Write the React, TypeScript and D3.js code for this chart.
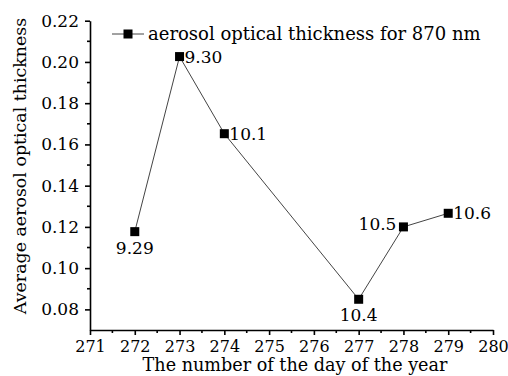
import { useEffect, useRef } from 'react';
import * as d3 from 'd3';

// Day of year and the mean AOT at 870 nm
const days = [272, 273, 274, 277, 278, 279];
const aot = [0.1177, 0.2026, 0.1652, 0.0849, 0.12, 0.1266];
const pointLabels = ['9.29', '9.30', '10.1', '10.4', '10.5', '10.6'];
// where each date label sits relative to its point
const labelSides = ['below', 'right', 'right', 'below', 'left', 'right'];

const xTicks = [271, 272, 273, 274, 275, 276, 277, 278, 279, 280];
const yTicks = [0.08, 0.1, 0.12, 0.14, 0.16, 0.18, 0.2, 0.22];

const legendText = 'aerosol optical thickness for 870 nm';
const xTitle = 'The number of the day of the year';
const yTitle = 'Average aerosol optical thickness';

export default function App() {
  const svgRef = useRef<SVGSVGElement>(null);

  useEffect(() => {
    if (!svgRef.current) return;

    const width = 508;
    const height = 376;
    const font = '"DejaVu Serif", serif';

    const svg = d3.select(svgRef.current);
    svg.selectAll('*').remove();
    svg.attr('width', width).attr('height', height);

    svg.append('rect').attr('width', width).attr('height', height).attr('fill', '#fff');

    const xScale = d3.scaleLinear().domain([271, 280]).range([90, 493]);
    const yScale = d3.scaleLinear().domain([0.07, 0.22]).range([330, 20.7]);

    // X axis
    const xAxis = svg
      .append('g')
      .attr('transform', `translate(0,${yScale(0.07)})`)
      .call(
        d3
          .axisBottom(xScale)
          .tickValues(xTicks)
          .tickSize(5)
          .tickSizeOuter(0)
          .tickFormat((d) => d3.format('d')(d as number))
      );
    xAxis.select('.domain').attr('stroke-width', 1.6);
    xAxis.selectAll('line').attr('stroke-width', 1.6);
    xAxis
      .selectAll('text')
      .attr('font-family', font)
      .attr('font-size', '16px')
      .attr('fill', '#000')
      .attr('dy', '0.9em');

    // x minor ticks
    svg
      .append('g')
      .selectAll('line')
      .data(d3.range(271.5, 280, 1))
      .enter()
      .append('line')
      .attr('x1', (d) => xScale(d))
      .attr('x2', (d) => xScale(d))
      .attr('y1', yScale(0.07))
      .attr('y2', yScale(0.07) + 3)
      .attr('stroke', '#000')
      .attr('stroke-width', 1.6);

    // Y axis
    const yAxis = svg
      .append('g')
      .attr('transform', `translate(${xScale(271)},0)`)
      .call(
        d3
          .axisLeft(yScale)
          .tickValues(yTicks)
          .tickSize(5)
          .tickSizeOuter(0)
          .tickFormat(d3.format('.2f'))
      );
    yAxis.select('.domain').attr('stroke-width', 1.6);
    yAxis.selectAll('line').attr('stroke-width', 1.6);
    yAxis
      .selectAll('text')
      .attr('font-family', font)
      .attr('font-size', '17px')
      .attr('fill', '#000')
      .attr('x', -11);

    // y minor ticks
    svg
      .append('g')
      .selectAll('line')
      .data(d3.range(0.09, 0.22, 0.02))
      .enter()
      .append('line')
      .attr('x1', xScale(271))
      .attr('x2', xScale(271) - 3)
      .attr('y1', (d) => yScale(d))
      .attr('y2', (d) => yScale(d))
      .attr('stroke', '#000')
      .attr('stroke-width', 1.6);

    const points = days.map((d, i) => ({ day: d, value: aot[i], label: pointLabels[i], side: labelSides[i] }));

    // Line
    const line = d3
      .line<(typeof points)[number]>()
      .x((d) => xScale(d.day))
      .y((d) => yScale(d.value));

    svg
      .append('path')
      .datum(points)
      .attr('fill', 'none')
      .attr('stroke', '#444')
      .attr('stroke-width', 1)
      .attr('d', line);

    // Markers
    svg
      .selectAll('rect.pt')
      .data(points)
      .enter()
      .append('rect')
      .attr('class', 'pt')
      .attr('x', (d) => xScale(d.day) - 4.5)
      .attr('y', (d) => yScale(d.value) - 4.5)
      .attr('width', 9)
      .attr('height', 9)
      .attr('fill', '#000');

    // Point labels
    svg
      .selectAll('text.lbl')
      .data(points)
      .enter()
      .append('text')
      .attr('class', 'lbl')
      .attr('x', (d) => xScale(d.day) + (d.side === 'right' ? 5 : d.side === 'left' ? -7 : 0))
      .attr('y', (d) => yScale(d.value) + (d.side === 'below' ? 22 : d.side === 'left' ? 3 : 6))
      .attr('text-anchor', (d) => (d.side === 'right' ? 'start' : d.side === 'left' ? 'end' : 'middle'))
      .attr('font-family', font)
      .attr('font-size', '17px')
      .attr('fill', '#000')
      .text((d) => d.label);

    // Legend
    const lg = svg.append('g').attr('transform', 'translate(112,34)');
    lg.append('line').attr('x1', 0).attr('x2', 32).attr('y1', 0).attr('y2', 0).attr('stroke', '#444').attr('stroke-width', 1);
    lg.append('rect').attr('x', 11.5).attr('y', -4.5).attr('width', 9).attr('height', 9).attr('fill', '#000');
    lg.append('text')
      .attr('x', 36)
      .attr('y', 6)
      .attr('font-family', font)
      .attr('font-size', '18px')
      .attr('fill', '#000')
      .text(legendText);

    // Axis titles
    svg
      .append('text')
      .attr('x', 295)
      .attr('y', 371)
      .attr('text-anchor', 'middle')
      .attr('font-family', font)
      .attr('font-size', '17.6px')
      .attr('fill', '#000')
      .text(xTitle);

    svg
      .append('text')
      .attr('transform', 'translate(26,166) rotate(-90)')
      .attr('text-anchor', 'middle')
      .attr('font-family', font)
      .attr('font-size', '17.4px')
      .attr('fill', '#000')
      .text(yTitle);
  }, []);

  return <svg ref={svgRef} style={{ position: 'absolute', left: 0, top: 0 }} />;
}
